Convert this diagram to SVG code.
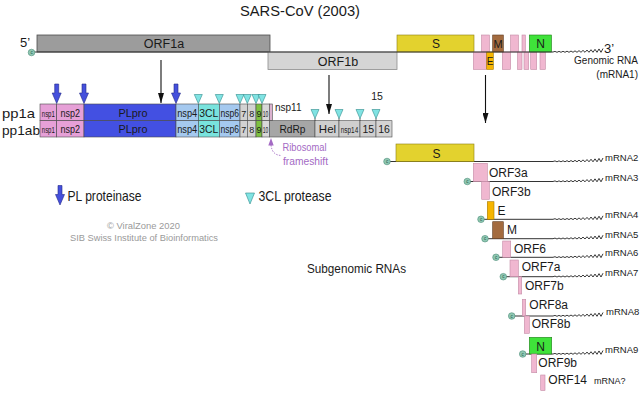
<svg xmlns="http://www.w3.org/2000/svg" width="640" height="394" viewBox="0 0 640 394">
<style>
text{font-family:"Liberation Sans",Arial,sans-serif;fill:#1a1a1a}
.m{text-anchor:middle}
.pk{fill:#f0b7d0;stroke:#c48aa6;stroke-width:.6}
.bx{stroke:#4a4a4a;stroke-width:.6}
.rl{stroke:#333;stroke-width:1;fill:none}
.wv{stroke:#222;stroke-width:.9;fill:none;stroke-linejoin:round}
.tri{fill:#80e3e3;stroke:#2f8c8c;stroke-width:.6}
.pl{fill:#4550dc;stroke:#23288a;stroke-width:.6}
.ar{stroke:#111;stroke-width:1.1;fill:none}
.cp{fill:#8fc7b2;stroke:#4f8f7a;stroke-width:.6}
.lab{font-size:9.5px}
.orf{font-size:12px}
.c11{font-size:11px}
.c10{font-size:10px}
.c9{font-size:9px}
.gy{fill:#9a9a9a}
.sY{fill:#e3d22e;stroke:#8d7f12;stroke-width:.6}
.sM{fill:#a36b3f;stroke:#5e3a1e;stroke-width:.6}
.sN{fill:#3fe23a;stroke:#1f7f1a;stroke-width:.6}
.sE{fill:#f6b500;stroke:#a67800;stroke-width:.6}
</style>
<defs>
<marker id="ah" viewBox="0 0 10 6" refX="10" refY="3" markerWidth="10" markerHeight="6" markerUnits="userSpaceOnUse" orient="auto"><path d="M0,0 L10,3 L0,6 Z" fill="#111"/></marker>
<path id="wave" class="wv" d="M0,0 L2,-0.6 L4,0.3 L6,-0.64 L8,0.3 L10,-0.72 L12,0.3 L14,-0.83 L16,0.3 L18,-0.98 L20,0.3 L22,-1.16 L24,0.3 L26,-1.38 L28,0.3 L30,-1.64 L32,0.3 L34,-1.94 L36,0.3 L38,-2.28 L40,0.3 L42,-2.65 L44,0.3 L46,-3.06 L48,0.3 L50,-3.5"/>
<g id="cap"><circle class="cp" r="3.3"/><text x="0" y="1.6" style="font-size:4.5px;fill:#24594a;text-anchor:middle">c</text></g>
<path id="plarrow" class="pl" d="M-2,0 H2 V9 H4.5 L0,19.5 L-4.5,9 H-2 Z"/>
<path id="tri" class="tri" d="M-4,0 H4 L0,9 Z"/>
</defs>

<text class="m" x="300" y="16" style="font-size:15px" textLength="120" lengthAdjust="spacingAndGlyphs">SARS-CoV (2003)</text>

<!-- genome -->
<g id="orf1a"><rect x="37" y="35" width="233" height="17" fill="#9c9c9c" stroke="#4d4d4d" stroke-width=".8"/><text class="m" x="164" y="48" style="font-size:12.5px">ORF1a</text></g>
<g id="orf1b"><rect x="268" y="52" width="129" height="17.5" fill="#d5d5d5" stroke="#8c8c8c" stroke-width=".8"/><text class="m" x="338" y="65.5" style="font-size:12.5px">ORF1b</text></g>
<g id="gS"><rect class="sY" x="397" y="35" width="77" height="17"/><text class="m" x="436" y="48" style="font-size:12px">S</text></g>
<g id="gAccessory">
<rect class="pk" x="481.5" y="35" width="8" height="17"/>
<rect class="pk" x="510.5" y="35" width="8" height="17"/>
<rect class="pk" x="522" y="35" width="3.3" height="17"/>
<rect class="pk" x="473.3" y="52" width="13.4" height="17.5"/>
<rect class="pk" x="502.3" y="52" width="8.4" height="17.5"/>
<rect class="pk" x="517.5" y="52" width="4.5" height="17.5"/>
<rect class="pk" x="524" y="52" width="4.7" height="17.5"/>
<rect class="pk" x="530.7" y="52" width="6" height="17.5"/>
<rect class="pk" x="540" y="52" width="5.3" height="17.5"/>
</g>
<g id="gM"><rect class="sM" x="492.7" y="35" width="10.6" height="17"/><text class="m" x="498" y="48" style="font-size:11px">M</text></g>
<g id="gN"><rect class="sN" x="529.3" y="35" width="22.2" height="17"/><text class="m" x="540.5" y="48" style="font-size:12px">N</text></g>
<g id="gE"><rect class="sE" x="486.7" y="52" width="6.6" height="17.5"/><text class="m" x="490" y="64.5" style="font-size:10px">E</text></g>
<g id="genomeRNA">
<line class="rl" x1="32" y1="52" x2="553" y2="52"/>
<use href="#wave" x="553" y="52"/>
<use href="#cap" x="31.5" y="52.5"/>
<text x="20" y="46.5" style="font-size:13px">5’</text>
<text x="604" y="52.5" style="font-size:13px">3’</text>
<text x="638" y="64" style="font-size:10px;text-anchor:end">Genomic RNA</text>
<text x="638" y="78" style="font-size:10px;text-anchor:end">(mRNA1)</text>
</g>

<!-- polyproteins -->
<g id="pp1a">
<text x="2" y="118" style="font-size:13.5px" textLength="33" lengthAdjust="spacingAndGlyphs">pp1a</text>
<rect class="bx" x="40" y="104" width="16.7" height="16.7" fill="#e6a0d7"/>
<rect class="bx" x="56.7" y="104" width="27.3" height="16.7" fill="#e6a0d7"/>
<rect class="bx" x="84" y="104" width="92" height="16.7" fill="#4350e2"/>
<rect class="bx" x="176" y="104" width="22.3" height="16.7" fill="#a5c9ef"/>
<rect class="bx" x="198.3" y="104" width="21" height="16.7" fill="#79e3dd"/>
<rect class="bx" x="219.3" y="104" width="20.7" height="16.7" fill="#a5c9ef"/>
<rect class="bx" x="240" y="104" width="7.3" height="16.7" fill="#d2d2d2"/>
<rect class="bx" x="247.3" y="104" width="8.7" height="16.7" fill="#d2d2d2"/>
<rect class="bx" x="256" y="104" width="6" height="16.7" fill="#7cc040"/>
<rect class="bx" x="262" y="104" width="7.3" height="16.7" fill="#d8d8d8"/>
<rect class="bx" x="269.3" y="104" width="3" height="16.7" fill="#dbb2cf"/>
<text class="m c9" x="48.3" y="116.5" textLength="13" lengthAdjust="spacingAndGlyphs">nsp1</text>
<text class="m c11" x="70.3" y="116.5" textLength="19.5" lengthAdjust="spacingAndGlyphs">nsp2</text>
<text class="m" x="133" y="116.5" style="font-size:11.5px" textLength="29" lengthAdjust="spacingAndGlyphs">PLpro</text>
<text class="m c11" x="187.2" y="116.5" textLength="20" lengthAdjust="spacingAndGlyphs">nsp4</text>
<text class="m c11" x="208.8" y="116.5" textLength="19" lengthAdjust="spacingAndGlyphs">3CL</text>
<text class="m c11" transform="translate(229.7,116.5) scale(0.78,1)">nsp6</text>
<text class="m c9" x="243.7" y="116.5">7</text>
<text class="m c9" x="251.7" y="116.5">8</text>
<text class="m c9" x="259" y="116.5">9</text>
<text class="m c9" x="265.6" y="116.5" textLength="5.5" lengthAdjust="spacingAndGlyphs">10</text>
</g>
<g id="pp1ab">
<text x="2" y="134.5" style="font-size:13.5px" textLength="38" lengthAdjust="spacingAndGlyphs">pp1ab</text>
<rect class="bx" x="40" y="120.7" width="16.7" height="16.3" fill="#e6a0d7"/>
<rect class="bx" x="56.7" y="120.7" width="27.3" height="16.3" fill="#e6a0d7"/>
<rect class="bx" x="84" y="120.7" width="92" height="16.3" fill="#4350e2"/>
<rect class="bx" x="176" y="120.7" width="22.3" height="16.3" fill="#a5c9ef"/>
<rect class="bx" x="198.3" y="120.7" width="21" height="16.3" fill="#79e3dd"/>
<rect class="bx" x="219.3" y="120.7" width="20.7" height="16.3" fill="#a5c9ef"/>
<rect class="bx" x="240" y="120.7" width="7.3" height="16.3" fill="#d2d2d2"/>
<rect class="bx" x="247.3" y="120.7" width="8.7" height="16.3" fill="#d2d2d2"/>
<rect class="bx" x="256" y="120.7" width="6" height="16.3" fill="#7cc040"/>
<rect class="bx" x="262" y="120.7" width="7.3" height="16.3" fill="#d8d8d8"/>
<rect class="bx" x="269.3" y="120.7" width="45.7" height="16.3" fill="#a6a6a6"/>
<rect class="bx" x="315" y="120.7" width="24" height="16.3" fill="#cfcfcf"/>
<rect class="bx" x="339" y="120.7" width="21" height="16.3" fill="#cfcfcf"/>
<rect class="bx" x="360" y="120.7" width="16" height="16.3" fill="#cfcfcf"/>
<rect class="bx" x="376" y="120.7" width="16" height="16.3" fill="#d4d4d4"/>
<text class="m c9" x="48.3" y="133" textLength="13" lengthAdjust="spacingAndGlyphs">nsp1</text>
<text class="m c11" x="70.3" y="133" textLength="19.5" lengthAdjust="spacingAndGlyphs">nsp2</text>
<text class="m" x="133" y="133" style="font-size:11.5px" textLength="29" lengthAdjust="spacingAndGlyphs">PLpro</text>
<text class="m c11" x="187.2" y="133" textLength="20" lengthAdjust="spacingAndGlyphs">nsp4</text>
<text class="m c11" x="208.8" y="133" textLength="19" lengthAdjust="spacingAndGlyphs">3CL</text>
<text class="m c11" transform="translate(229.7,133) scale(0.78,1)">nsp6</text>
<text class="m c9" x="243.7" y="133">7</text>
<text class="m c9" x="251.7" y="133">8</text>
<text class="m c9" x="259" y="133">9</text>
<text class="m c9" x="265.6" y="133" textLength="5.5" lengthAdjust="spacingAndGlyphs">10</text>
<text class="m" x="292.5" y="133" style="font-size:11.5px" textLength="26" lengthAdjust="spacingAndGlyphs">RdRp</text>
<text class="m" x="327.5" y="133" style="font-size:11.5px">Hel</text>
<text class="m c9" transform="translate(349.5,133) scale(0.71,1)">nsp14</text>
<text class="m" x="368.3" y="133" style="font-size:10.5px">15</text>
<text class="m" x="384" y="133" style="font-size:10.5px">16</text>
</g>
<g id="nsp11"><text x="275" y="110.5" style="font-size:10px">nsp11</text></g>
<g id="lbl15"><text class="m" x="377" y="100" style="font-size:10.5px">15</text></g>

<!-- cleavage sites -->
<g id="cleavage">
<use href="#plarrow" x="56.7" y="84"/>
<use href="#plarrow" x="84" y="84"/>
<use href="#plarrow" x="176" y="84"/>
<use href="#tri" x="198.3" y="94.5"/>
<use href="#tri" x="219.3" y="94.5"/>
<use href="#tri" x="240" y="94.5"/>
<use href="#tri" x="247.3" y="94.5"/>
<use href="#tri" x="256" y="94.5"/>
<use href="#tri" x="262" y="94.5"/>
<path d="M315,118 V121 M339,118 V121 M360,118 V121 M376,118 V121" stroke="#333" stroke-width=".7"/>
<use href="#tri" x="315" y="109.5"/>
<use href="#tri" x="339" y="109.5"/>
<use href="#tri" x="360" y="109.5"/>
<use href="#tri" x="376" y="109.5"/>
</g>

<!-- connectors -->
<g id="connectors">
<line class="ar" x1="161" y1="60" x2="161" y2="103" marker-end="url(#ah)"/>
<line class="ar" x1="329" y1="75" x2="329" y2="114" marker-end="url(#ah)"/>
<line class="ar" x1="485.5" y1="75" x2="485.5" y2="123" marker-end="url(#ah)"/>
<path d="M271,145 Q272,155 281,155.5" stroke="#a46ac4" stroke-dasharray="1.4 1.4" fill="none" stroke-width="1"/>
<polygon points="271,138 268.3,145.5 273.7,145.5" fill="#a46ac4"/>
</g>
<g id="frameshift">
<text x="282.5" y="150.5" style="font-size:10px;fill:#a46ac4" textLength="44" lengthAdjust="spacingAndGlyphs">Ribosomal</text>
<text x="283" y="164.5" style="font-size:10px;fill:#a46ac4" textLength="45" lengthAdjust="spacingAndGlyphs">frameshift</text>
</g>

<!-- legend -->
<g id="legend">
<use href="#plarrow" x="60" y="185.5"/>
<text x="67.5" y="200.5" style="font-size:15px" textLength="74" lengthAdjust="spacingAndGlyphs">PL proteinase</text>
<path class="tri" d="M245.5,193 H254.5 L250,204 Z"/>
<text x="258.5" y="200.5" style="font-size:15px" textLength="73" lengthAdjust="spacingAndGlyphs">3CL protease</text>
</g>
<g id="credits">
<text class="gy" x="107" y="229" style="font-size:9.5px" textLength="73" lengthAdjust="spacingAndGlyphs">© ViralZone 2020</text>
<text class="gy" x="70" y="241" style="font-size:9.3px" textLength="148" lengthAdjust="spacingAndGlyphs">SIB Swiss Institute of Bioinformatics</text>
</g>
<g id="subLabel"><text x="307" y="273" style="font-size:12px" textLength="99" lengthAdjust="spacingAndGlyphs">Subgenomic RNAs</text></g>

<!-- subgenomic RNAs -->
<g id="mrna2">
<line class="rl" x1="387" y1="161.5" x2="553" y2="161.5"/><use href="#wave" x="553" y="161.5"/>
<rect class="sY" x="396" y="144" width="78" height="17.5"/><text class="m orf" x="436.5" y="157.5">S</text>
<use href="#cap" x="387" y="161.5"/><text class="lab" x="605" y="160.5">mRNA2</text>
</g>
<g id="mrna3">
<line class="rl" x1="467.3" y1="181.5" x2="553" y2="181.5"/><use href="#wave" x="553" y="181.5"/>
<rect class="pk" x="473.3" y="163.3" width="14" height="18.2"/><rect class="pk" x="481.7" y="181.5" width="7.6" height="17.8"/>
<text class="orf" x="489" y="177">ORF3a</text><text class="orf" x="492" y="195.5">ORF3b</text>
<use href="#cap" x="467.3" y="181.5"/><text class="lab" x="605" y="180.5">mRNA3</text>
</g>
<g id="mrna4">
<line class="rl" x1="481" y1="219.3" x2="553" y2="219.3"/><use href="#wave" x="553" y="219.3"/>
<rect class="sE" x="487.3" y="201.7" width="6.7" height="17.6"/><text class="orf" x="497.5" y="215">E</text>
<use href="#cap" x="481" y="219.3"/><text class="lab" x="605" y="218.3">mRNA4</text>
</g>
<g id="mrna5">
<line class="rl" x1="485" y1="238.7" x2="553" y2="238.7"/><use href="#wave" x="553" y="238.7"/>
<rect class="sM" x="492.7" y="221.7" width="10.6" height="17"/><text class="orf" x="507" y="234">M</text>
<use href="#cap" x="485" y="238.7"/><text class="lab" x="605" y="237.7">mRNA5</text>
</g>
<g id="mrna6">
<line class="rl" x1="496" y1="257.3" x2="553" y2="257.3"/><use href="#wave" x="553" y="257.3"/>
<rect class="pk" x="502.7" y="241" width="8" height="16.3"/><text class="orf" x="514" y="253">ORF6</text>
<use href="#cap" x="496" y="257.3"/><text class="lab" x="605" y="256.3">mRNA6</text>
</g>
<g id="mrna7">
<line class="rl" x1="503.3" y1="276.7" x2="553" y2="276.7"/><use href="#wave" x="553" y="276.7"/>
<rect class="pk" x="510" y="260" width="8.3" height="16.7"/><rect class="pk" x="518.3" y="276.7" width="3.4" height="17.3"/>
<text class="orf" x="521.7" y="270.5">ORF7a</text><text class="orf" x="525" y="290">ORF7b</text>
<use href="#cap" x="503.3" y="276.7"/><text class="lab" x="605" y="275.7">mRNA7</text>
</g>
<g id="mrna8">
<line class="rl" x1="511.7" y1="316" x2="553" y2="316"/><use href="#wave" x="553" y="316"/>
<rect class="pk" x="522.3" y="299.3" width="3.4" height="16.7"/><rect class="pk" x="524.3" y="316" width="5" height="17.3"/>
<text class="orf" x="529.3" y="308.5">ORF8a</text><text class="orf" x="531.7" y="327.5">ORF8b</text>
<use href="#cap" x="511.7" y="316"/><text class="lab" x="606" y="315">mRNA8</text>
</g>
<g id="mrna9">
<line class="rl" x1="522.7" y1="354" x2="553" y2="354"/><use href="#wave" x="553" y="354"/>
<rect class="sN" x="529.3" y="337.3" width="22.4" height="16.7"/><text class="m orf" x="540.5" y="350.5">N</text>
<rect class="pk" x="531.7" y="354" width="5" height="18.7"/><text class="orf" x="538.3" y="367">ORF9b</text>
<use href="#cap" x="522.7" y="354"/><text class="lab" x="605" y="353">mRNA9</text>
</g>
<g id="orf14">
<rect class="pk" x="540.7" y="375" width="4.3" height="15.5"/><text class="orf" x="548.3" y="384">ORF14</text>
<text x="594" y="384" style="font-size:9px">mRNA?</text>
</g>
</svg>
